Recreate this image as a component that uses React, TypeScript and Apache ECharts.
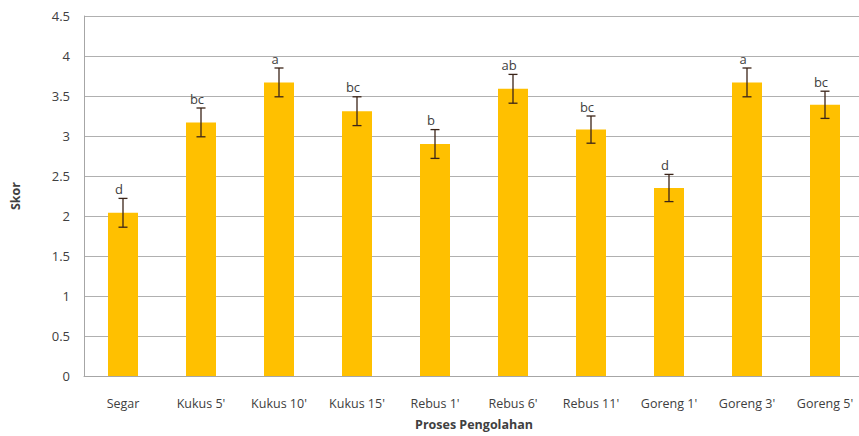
import React, { useEffect, useRef } from "react";
import * as echarts from "echarts";

const categories = ["Segar", "Kukus 5'", "Kukus 10'", "Kukus 15'", "Rebus 1'", "Rebus 6'", "Rebus 11'", "Goreng 1'", "Goreng 3'", "Goreng 5'"];
const scores = [2.04, 3.17, 3.67, 3.31, 2.9, 3.59, 3.08, 2.35, 3.67, 3.39];
const errors = [0.18, 0.18, 0.18, 0.18, 0.18, 0.18, 0.17, 0.17, 0.18, 0.17];
const letters = ["d", "bc", "a", "bc", "b", "ab", "bc", "d", "a", "bc"];

export default function App() {
  const ref = useRef<HTMLDivElement>(null);
  useEffect(() => {
    if (!ref.current) return;
    const chart = echarts.init(ref.current, null, { renderer: "svg" });
    const font = "'Open Sans', 'Liberation Sans', sans-serif";
    const errData = categories.map((_, i) => [i, scores[i] - errors[i], scores[i] + errors[i]]);
    chart.setOption({
      animation: false,
      backgroundColor: "#ffffff",
      textStyle: { fontFamily: font },
      grid: { left: 84, top: 16, width: 780, height: 360, containLabel: false, outerBoundsMode: "none" },
      xAxis: {
        type: "category",
        data: categories,
        name: "Proses Pengolahan",
        nameLocation: "middle",
        nameGap: 42,
        nameTextStyle: { fontFamily: font, fontWeight: "bold", fontSize: 12.5, color: "#404040" },
        axisLine: { lineStyle: { color: "#a6a6a6", width: 1 } },
        axisTick: { show: false },
        axisLabel: { fontFamily: font, fontSize: 12.5, color: "#404040", margin: 21, interval: 0 },
      },
      yAxis: {
        type: "value",
        min: 0,
        max: 4.5,
        interval: 0.5,
        name: "Skor",
        nameLocation: "middle",
        nameGap: 62,
        nameRotate: 90,
        nameTextStyle: { fontFamily: font, fontWeight: "bold", fontSize: 12.5, color: "#404040" },
        axisLine: { show: true, lineStyle: { color: "#a6a6a6", width: 1 } },
        axisTick: { show: false },
        axisLabel: { fontFamily: font, fontSize: 13, color: "#404040", margin: 14 },
        splitLine: { lineStyle: { color: "#b0b0b0", width: 1 } },
      },
      series: [
        {
          type: "bar",
          data: scores,
          barWidth: 30,
          itemStyle: { color: "#FFC000" },
        },
        {
          type: "custom",
          data: errData,
          z: 10,
          renderItem: (params: any, api: any) => {
            const idx = api.value(0);
            const lo = api.coord([idx, api.value(1)]);
            const hi = api.coord([idx, api.value(2)]);
            const x = lo[0];
            const cap = 4.5;
            const st = { stroke: "#3b2418", lineWidth: 1.3 };
            return {
              type: "group",
              children: [
                { type: "line", shape: { x1: x, y1: lo[1], x2: x, y2: hi[1] }, style: st },
                { type: "line", shape: { x1: x - cap, y1: lo[1], x2: x + cap, y2: lo[1] }, style: st },
                { type: "line", shape: { x1: x - cap, y1: hi[1], x2: x + cap, y2: hi[1] }, style: st },
                {
                  type: "text",
                  x: x - 4,
                  y: hi[1] - 3,
                  style: {
                    text: letters[params.dataIndex],
                    fill: "#404040",
                    font: "13px 'Open Sans', 'Liberation Sans', sans-serif",
                    textAlign: "center",
                    textVerticalAlign: "bottom",
                  },
                },
              ],
            };
          },
        },
      ],
    });
    return () => chart.dispose();
  }, []);
  return <div ref={ref} style={{ position: "fixed", left: 0, top: 0, width: 859, height: 436 }} />;
}
